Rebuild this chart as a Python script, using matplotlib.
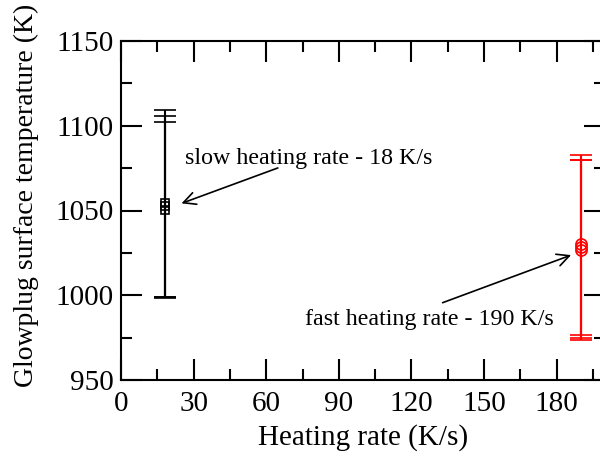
import matplotlib
matplotlib.use("Agg")
import matplotlib.pyplot as plt
from matplotlib.ticker import MultipleLocator

# slow heating runs (18 K/s)
slow_rate = [18, 18, 18]
slow_temp = [1050.5, 1052.5, 1054.5]
slow_low = [998.5, 999.0, 999.0]
slow_high = [1102.0, 1105.5, 1109.0]

# fast heating runs (190 K/s)
fast_rate = [190, 190, 190]
fast_temp = [1026.5, 1028.5, 1030.0]
fast_low = [973.5, 975.0, 976.5]
fast_high = [1080.0, 1080.0, 1082.5]

plt.rcParams['font.family'] = ['Liberation Serif', 'DejaVu Serif']

fig = plt.figure(figsize=(6, 4.55), dpi=100)
ax = fig.add_axes([121/600, 75/455, 484/600, 339/455])


def draw(rate, temp, low, high, col, mk, ms):
    lo = [t - l for t, l in zip(temp, low)]
    hi = [h - t for t, h in zip(temp, high)]
    ax.errorbar(rate, temp, yerr=[lo, hi], fmt=mk, color=col, ecolor=col,
                mfc='none', mec=col, ms=ms, mew=1.2, elinewidth=1.5,
                capsize=8, capthick=1.5)


draw(slow_rate, slow_temp, slow_low, slow_high, 'black', 's', 6)
draw(fast_rate, fast_temp, fast_low, fast_high, 'red', 'o', 8)

ax.set_xlim(0, 200)
ax.set_ylim(950, 1150)
ax.xaxis.set_major_locator(MultipleLocator(30))
ax.xaxis.set_minor_locator(MultipleLocator(15))
ax.yaxis.set_major_locator(MultipleLocator(50))
ax.yaxis.set_minor_locator(MultipleLocator(25))
ax.tick_params(which='both', direction='in', top=True, right=True, width=1.5,
               labelsize=21)
ax.tick_params(which='major', length=15, pad=5)
ax.tick_params(axis='x', which='major', pad=8)
ax.tick_params(which='minor', length=8)
for s in ax.spines.values():
    s.set_linewidth(1.5)

ax.set_xlabel('Heating rate (K/s)', fontsize=21, labelpad=5)
ax.set_ylabel('Glowplug surface temperature (K)', fontsize=20)
ax.yaxis.set_label_coords(-0.17, 0.546)

ax.text(26.4, 1080.4, 'slow heating rate - 18 K/s', fontsize=17.3, va='center')
ax.annotate('', xy=(25.0, 1054.2), xytext=(64.8, 1075.1),
            arrowprops=dict(arrowstyle='->', color='black', lw=1.2,
                            mutation_scale=22, shrinkA=0, shrinkB=0))
ax.text(75.9, 985.4, 'fast heating rate - 190 K/s', fontsize=17.3, va='center')
ax.annotate('', xy=(186.0, 1023.7), xytext=(132.9, 995.6),
            arrowprops=dict(arrowstyle='->', color='black', lw=1.2,
                            mutation_scale=22, shrinkA=0, shrinkB=0))

fig.savefig('out.png', dpi=100)
